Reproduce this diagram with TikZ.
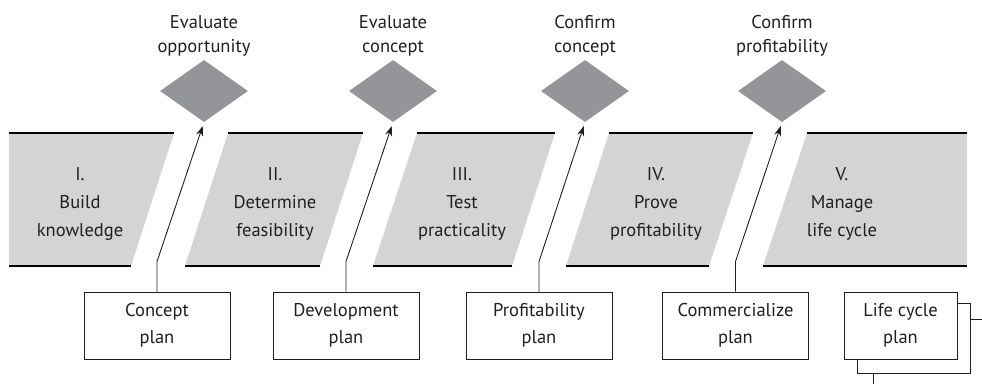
\documentclass[tikz,border=0pt]{standalone}
\usepackage{fontspec}
\setmainfont{PT Sans}
\usetikzlibrary{shapes.geometric,arrows.meta}
\definecolor{phasegray}{HTML}{D3D4D6}
\definecolor{gategray}{HTML}{939598}
\definecolor{ink}{HTML}{231F20}
\tikzset{
  x=1pt, y=-1pt,
  lbl/.style={font=\fontsize{18.5}{28}\selectfont, text=ink, align=center, inner sep=0pt},
  gatelbl/.style={lbl, font=\fontsize{18.5}{24.5}\selectfont},
  gate/.style={shape=diamond, fill=gategray, draw=none, inner sep=0pt, minimum width=88pt, minimum height=62pt},
  plan/.style={draw=ink, line width=1pt, fill=white, minimum width=146pt, minimum height=67pt, inner sep=0pt, font=\fontsize{18.5}{27}\selectfont, text=ink, align=center},
  phase/.style={fill=phasegray, draw=none},
  edge/.style={draw=black, line width=1.3pt},
  conn/.style={draw=ink, line width=0.9pt, -{Stealth[length=10pt,width=7pt]}, shorten >=4pt},
}
\begin{document}
\begin{tikzpicture}
\useasboundingbox (0,0) rectangle (982,384);
% phases
\foreach \a/\b/\c/\d in {9/174/131/9, 228/363/320/185, 417/555/512/373, 609/753/709/566, 807/967/967/763}{
  \fill[phase] (\a,133) -- (\b,133) -- (\c,266) -- (\d,266) -- cycle;
  \draw[edge] (\a,133) -- (\b,133);
  \draw[edge] (\d,266) -- (\c,266);
}
\node[lbl] (p1) at (80,204) {I.\\Build\\knowledge};
\node[lbl] (p2) at (275,204) {II.\\Determine\\feasibility};
\node[lbl] (p3) at (462,204) {III.\\Test\\practicality};
\node[lbl] (p4) at (656,204) {IV.\\Prove\\profitability};
\node[lbl] (p5) at (842,204) {V.\\Manage\\life cycle};
% gates
\node[gate] (d1) at (204,91) {};
\node[gate] (d2) at (393,91) {};
\node[gate] (d3) at (585,91) {};
\node[gate] (d4) at (782,91) {};
\node[gatelbl] (t1) at (204,36) {Evaluate\\opportunity};
\node[gatelbl] (t2) at (393,36) {Evaluate\\concept};
\node[gatelbl] (t3) at (585,36) {Confirm\\concept};
\node[gatelbl] (t4) at (782,36) {Confirm\\profitability};
% plans
\draw[draw=ink, line width=1pt, fill=white] (857,303) rectangle (970,373);
\coordinate (e1) at (982,319);
\coordinate (e2) at (873,384);
\draw[draw=ink, line width=1pt] (970,319) -- (e1);
\draw[draw=ink, line width=1pt] (873,373) -- (e2);
\node[plan] (b1) at (157,325.5) {Concept\\plan};
\node[plan] (b2) at (346,325.5) {Development\\plan};
\node[plan] (b3) at (539,325.5) {Profitability\\plan};
\node[plan] (b4) at (735.5,325.5) {Commercialize\\plan};
\node[plan, minimum width=113pt] (b5) at (900.5,325.5) {Life cycle\\plan};
% connectors
\draw[conn] (b1.north) -- ++(0,-30) -- (d1.south);
\draw[conn] (b2.north) -- ++(0,-30) -- (d2.south);
\draw[conn] (b3.north) -- ++(0,-30) -- (d3.south);
\draw[conn] (b4.north) -- ++(0,-30) -- (d4.south);
\end{tikzpicture}
\end{document}
